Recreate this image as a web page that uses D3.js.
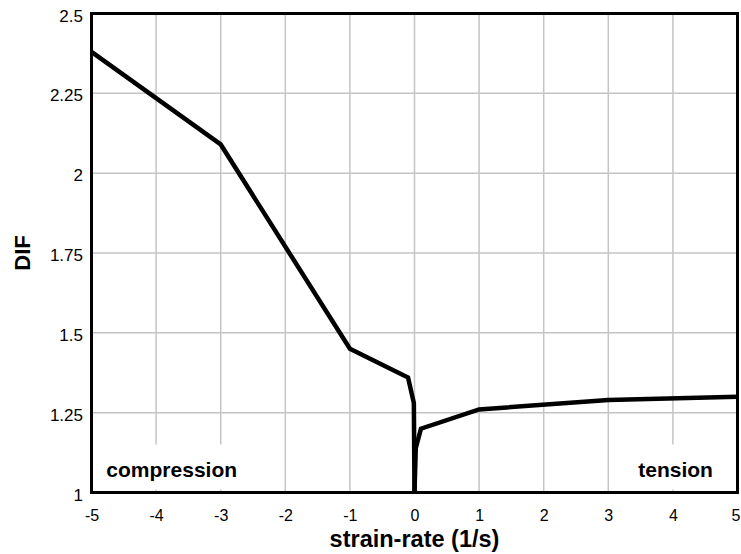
<!DOCTYPE html>
<html>
<head>
<meta charset="utf-8">
<script src="https://cdn.jsdelivr.net/npm/d3@7"></script>
<style>
  html, body { margin: 0; padding: 0; background: #fff; }
  svg { display: block; font-family: "Liberation Sans", Arial, sans-serif; }
</style>
</head>
<body>
<svg id="chart" width="741" height="554"></svg>
<script>
// Dynamic increase factor vs. strain rate
const compressionRate = [-5, -3, -1, -0.1, -0.01, 0];
const compressionDIF  = [2.38, 2.09, 1.45, 1.36, 1.28, 1.0];
const tensionRate = [0, 0.02, 0.1, 1, 3, 5];
const tensionDIF  = [1.0, 1.14, 1.2, 1.26, 1.29, 1.30];

const xTicks = [-5, -4, -3, -2, -1, 0, 1, 2, 3, 4, 5];
const xTickLabels = ["-5", "-4", "-3", "-2", "-1", "0", "1", "2", "3", "4", "5"];
const yTicks = [1, 1.25, 1.5, 1.75, 2, 2.25, 2.5];
const yTickLabels = ["1", "1.25", "1.5", "1.75", "2", "2.25", "2.5"];

const margin = { left: 91.5, right: 3.5, top: 13.5, bottom: 61.5 };
const W = 741, H = 554;
const FONT = "Liberation Sans, Arial, sans-serif";

const svg = d3.select("#chart");
const x = d3.scaleLinear().domain([-5, 5]).range([margin.left, W - margin.right]);
const y = d3.scaleLinear().domain([1, 2.5]).range([H - margin.bottom, margin.top]);

// grid
const grid = svg.append("g").attr("stroke", "#c4c4c4").attr("stroke-width", 1.5);
grid.selectAll("line.vx").data(xTicks.slice(1, -1)).join("line")
  .attr("x1", d => x(d)).attr("x2", d => x(d))
  .attr("y1", y(1)).attr("y2", y(2.5));
grid.selectAll("line.hy").data(yTicks.slice(1, -1)).join("line")
  .attr("x1", x(-5)).attr("x2", x(5))
  .attr("y1", d => y(d)).attr("y2", d => y(d));

// region labels on white backing
const regions = [
  { text: "compression", xv: -4.77, anchor: "start" },
  { text: "tension", xv: 4.62, anchor: "end" }
];
const regionG = svg.append("g");
regions.forEach(r => {
  const t = regionG.append("text")
    .attr("x", x(r.xv)).attr("y", y(1) - 16)
    .attr("text-anchor", r.anchor)
    .attr("font-size", 21).attr("font-weight", "bold")
    .text(r.text);
  const bb = t.node().getBBox();
  const top = y(1) - 48;
  regionG.insert("rect", "text")
    .attr("x", bb.x - 6).attr("y", top)
    .attr("width", bb.width + 12).attr("height", y(1) - 3 - top)
    .attr("fill", "#fff");
});

// curves
const line = d3.line().x(d => x(d[0])).y(d => y(d[1]));
const series = [
  d3.zip(compressionRate, compressionDIF),
  d3.zip(tensionRate, tensionDIF)
];
svg.append("g").selectAll("path").data(series).join("path")
  .attr("d", line)
  .attr("fill", "none").attr("stroke", "#000")
  .attr("stroke-width", 4.5).attr("stroke-linejoin", "miter");

// frame
svg.append("rect")
  .attr("x", x(-5)).attr("y", y(2.5))
  .attr("width", x(5) - x(-5)).attr("height", y(1) - y(2.5))
  .attr("fill", "none").attr("stroke", "#000").attr("stroke-width", 3);

// axes
const xAxis = d3.axisBottom(x).tickValues(xTicks).tickSize(0).tickPadding(17)
  .tickFormat((d, i) => xTickLabels[i]);
svg.append("g").attr("transform", `translate(0,${y(1)})`).call(xAxis)
  .call(g => g.select(".domain").remove())
  .call(g => g.selectAll("text").attr("font-size", 16).attr("fill", "#000")
    .attr("font-family", FONT))
  // keep the last label inside the page edge
  .call(g => g.selectAll(".tick text").filter(d => d === 5).attr("dx", -2));

const yAxis = d3.axisLeft(y).tickValues(yTicks).tickSize(0).tickPadding(8.5)
  .tickFormat((d, i) => yTickLabels[i]);
svg.append("g").attr("transform", `translate(${x(-5)},0)`).call(yAxis)
  .call(g => g.select(".domain").remove())
  .call(g => g.selectAll("text").attr("font-size", 17).attr("fill", "#000")
    .attr("font-family", FONT).attr("dy", "0.45em"));

// axis titles
svg.append("text")
  .attr("x", x(0)).attr("y", 547)
  .attr("text-anchor", "middle")
  .attr("font-size", 23.5).attr("font-weight", "bold")
  .text("strain-rate (1/s)");
svg.append("text")
  .attr("transform", `translate(30,${(y(1) + y(2.5)) / 2}) rotate(-90)`)
  .attr("text-anchor", "middle")
  .attr("font-size", 22).attr("font-weight", "bold")
  .text("DIF");
</script>
</body>
</html>
